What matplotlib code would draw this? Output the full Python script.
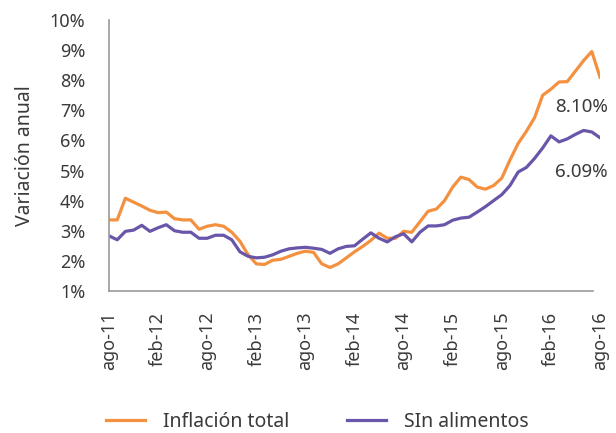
import matplotlib.pyplot as plt

# meses ago-11 .. ago-16 (61 puntos)
months = list(range(61))
tick_pos = list(range(0, 61, 6))
tick_labels = ['ago-11', 'feb-12', 'ago-12', 'feb-13', 'ago-13', 'feb-14',
               'ago-14', 'feb-15', 'ago-15', 'feb-16', 'ago-16']

# Variación anual (%)
inflacion_total = [3.36, 3.36, 4.08, 3.95, 3.82, 3.68, 3.60, 3.62, 3.40, 3.36,
                   3.36, 3.05, 3.15, 3.20, 3.15, 2.95, 2.65, 2.20, 1.90, 1.88,
                   2.02, 2.05, 2.15, 2.25, 2.32, 2.28, 1.90, 1.78, 1.90, 2.10,
                   2.30, 2.48, 2.68, 2.92, 2.75, 2.75, 2.98, 2.95, 3.30, 3.65,
                   3.72, 4.00, 4.45, 4.78, 4.70, 4.45, 4.38, 4.50, 4.75, 5.35,
                   5.90, 6.30, 6.75, 7.50, 7.70, 7.94, 7.95, 8.30, 8.65, 8.95,
                   8.10]
sin_alimentos = [2.83, 2.70, 2.98, 3.02, 3.18, 2.98, 3.10, 3.20, 3.00, 2.95,
                 2.95, 2.75, 2.75, 2.85, 2.85, 2.70, 2.30, 2.15, 2.10, 2.12,
                 2.20, 2.32, 2.40, 2.43, 2.45, 2.42, 2.38, 2.25, 2.40, 2.48,
                 2.50, 2.72, 2.93, 2.75, 2.63, 2.80, 2.90, 2.63, 2.95, 3.16,
                 3.16, 3.20, 3.35, 3.42, 3.45, 3.62, 3.80, 4.00, 4.20, 4.50,
                 4.95, 5.10, 5.40, 5.75, 6.15, 5.95, 6.05, 6.20, 6.33, 6.28,
                 6.09]

orange = '#F39140'
purple = '#6A56A8'
txt = '#3a3a3a'

plt.rcParams['font.family'] = ['Noto Sans', 'DejaVu Sans']
plt.rcParams['font.weight'] = 'light'

fig = plt.figure(figsize=(6.16, 4.33), dpi=100)
ax = fig.add_axes([0.177, 0.328, 0.797, 0.626])

ax.plot(months, inflacion_total, color=orange, lw=2.3, label='Inflación total')
ax.plot(months, sin_alimentos, color=purple, lw=2.3, label='SIn alimentos')

ax.set_xlim(0, 60)
ax.set_ylim(1, 10)
ax.set_yticks(range(1, 11))
ax.set_yticklabels([f'{v}%' for v in range(1, 11)])
ax.set_xticks(tick_pos)
ax.set_xticklabels(tick_labels, rotation=90, va='top', ha='center')
ax.tick_params(length=0, labelsize=13, colors=txt)
ax.tick_params(axis='x', pad=15)
ax.tick_params(axis='y', pad=17)

for s in ['top', 'right']:
    ax.spines[s].set_visible(False)
for s in ['left', 'bottom']:
    ax.spines[s].set_color('#999999')
    ax.spines[s].set_linewidth(1.2)
ax.spines['bottom'].set_bounds(0, 59.2)

ax.set_ylabel('Variación anual', fontsize=14, color=txt, labelpad=11)

ax.text(54.5, 7.1, f'{inflacion_total[-1]:.2f}%', fontsize=13.5, color=txt,
        ha='left', va='center')
ax.text(54.5, 4.95, f'{sin_alimentos[-1]:.2f}%', fontsize=13.5, color=txt,
        ha='left', va='center')

fig.legend(loc='center', bbox_to_anchor=(0.515, 0.025), ncol=2, frameon=False,
           fontsize=14, handlelength=2.0, handletextpad=0.9, columnspacing=3.0,
           labelcolor=txt)

fig.savefig('out.png', dpi=100)
